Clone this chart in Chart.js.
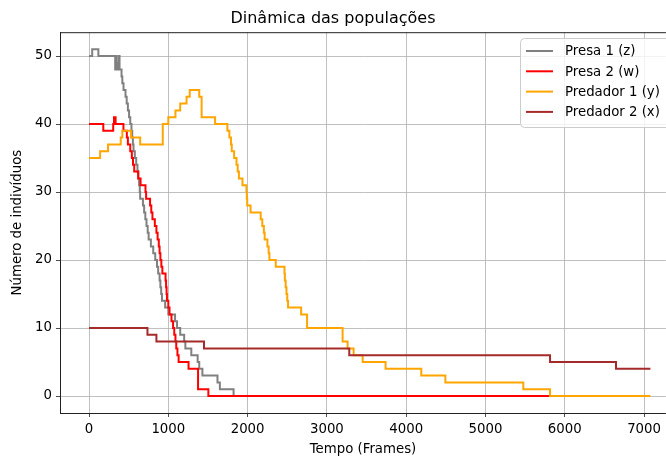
<!DOCTYPE html>
<html>
<head>
<meta charset="utf-8">
<script src="https://cdn.jsdelivr.net/npm/chart.js@4"></script>
<style>
  html, body { margin: 0; padding: 0; background: #fff; }
  #wrap { width: 666px; height: 459px; }
</style>
</head>
<body>
<div id="wrap"><canvas id="chart_pop"></canvas></div>
<script>
// tempos (frames) em que a população muda, e o valor a partir dali
const presa1T = [0, 40, 118, 330, 340, 350, 360, 370, 378, 385, 410, 420, 435, 460, 475, 490, 505, 520, 535, 545,
    553, 561, 578, 595, 611, 622, 632, 640, 645, 680, 695, 710, 725, 740, 752, 780, 810, 835, 857, 872,
    890, 900, 910, 920, 960, 1000, 1085, 1110, 1150, 1200, 1215, 1290, 1370, 1390, 1430, 1620, 1650, 1823, 5820]
const presa1V = [50, 51, 50, 48, 50, 48, 49, 48, 50, 48, 47, 46, 45, 44, 43, 42, 41, 40, 39, 38,
    37, 36, 35, 34, 33, 32, 31, 30, 29, 28, 27, 26, 25, 24, 23, 22, 21, 20, 19, 18,
    17, 16, 15, 14, 13, 12, 11, 10, 9, 8, 7, 6, 5, 4, 3, 2, 1, 0, 0]

const presa2T = [0, 180, 305, 315, 335, 434, 477, 490, 520, 540, 555, 570, 620, 650, 712, 720, 770, 785, 800, 830,
    850, 865, 880, 890, 900, 912, 925, 965, 972, 978, 983, 1000, 1015, 1040, 1060, 1075, 1090, 1100, 1115, 1130,
    1255, 1375, 1505, 5820]
const presa2V = [40, 39, 40, 41, 40, 39, 38, 37, 36, 35, 34, 33, 32, 31, 30, 29, 28, 27, 26, 25,
    24, 23, 22, 21, 20, 19, 18, 17, 16, 15, 14, 13, 12, 11, 10, 9, 8, 7, 6, 5,
    4, 1, 0, 0]

const pred1T = [0, 140, 240, 400, 420, 530, 645, 930, 1000, 1090, 1150, 1230, 1270, 1390, 1420, 1590, 1745, 1770, 1790, 1800,
    1830, 1860, 1875, 1890, 1935, 1985, 1990, 1995, 2037, 2165, 2185, 2205, 2215, 2250, 2265, 2275, 2355, 2465, 2470, 2480,
    2490, 2500, 2510, 2675, 2750, 3198, 3261, 3337, 3451, 3740, 4190, 4494, 5477, 5814, 7080]
const pred1V = [35, 36, 37, 38, 39, 38, 37, 40, 41, 42, 43, 44, 45, 44, 41, 40, 39, 38, 37, 36,
    35, 34, 33, 32, 31, 30, 29, 28, 27, 26, 25, 24, 23, 22, 21, 20, 19, 18, 17, 16,
    15, 14, 13, 12, 10, 8, 7, 6, 5, 4, 3, 2, 1, 0, 0]

const pred2T = [0, 737, 850, 1450, 3282, 5814, 6646, 7080]
const pred2V = [10, 9, 8, 7, 6, 5, 4, 4]

const labels = ['Presa 1 (z)', 'Presa 2 (w)', 'Predador 1 (y)', 'Predador 2 (x)']
const colors = ['#808080', '#ff0000', '#ffa500', '#a52a2a']
const xTicks = [0, 1000, 2000, 3000, 4000, 5000, 6000, 7000]
const yTicks = [0, 10, 20, 30, 40, 50]

const FONT = 'DejaVu Sans'

const pts = (ts, vs) => ts.map((t, i) => ({ x: t, y: vs[i] }))
const series = [pts(presa1T, presa1V), pts(presa2T, presa2V), pts(pred1T, pred1V), pts(pred2T, pred2V)]

// caixa da legenda e borda superior, como no matplotlib
const mplExtras = {
    id: 'mplExtras',
    afterDraw(chart) {
        const c = chart.ctx
        const a = chart.chartArea
        c.save()
        c.strokeStyle = '#222'
        c.lineWidth = 1
        c.beginPath()
        c.moveTo(a.left, a.top + 0.5)
        c.lineTo(a.right, a.top + 0.5)
        c.stroke()

        const bx = 520.5, by = 38.5, bw = 160, bh = 89, r = 4
        c.beginPath()
        c.roundRect(bx, by, bw, bh, r)
        c.fillStyle = 'rgba(255,255,255,0.8)'
        c.fill()
        c.strokeStyle = '#cccccc'
        c.stroke()

        c.font = '13.3px "' + FONT + '"'
        c.textBaseline = 'middle'
        c.fillStyle = '#000'
        chart.data.datasets.forEach((ds, i) => {
            const y = 51 + i * 20.3
            c.strokeStyle = ds.borderColor
            c.lineWidth = 2
            c.beginPath()
            c.moveTo(526, y)
            c.lineTo(553, y)
            c.stroke()
            c.fillText(ds.label, 565, y + 1)
        })
        c.restore()
    }
}

const ctx = document.getElementById('chart_pop').getContext('2d')
const myChart = new Chart(ctx, {
    type: 'line',
    data: {
        datasets: series.map((data, i) => ({
            label: labels[i],
            data: data,
            borderColor: colors[i],
            backgroundColor: colors[i],
            borderWidth: 2,
            pointRadius: 0,
            stepped: true,
            fill: false,
            order: 4 - i
        }))
    },
    options: {
        responsive: true,
        maintainAspectRatio: false,
        animation: false,
        layout: { padding: { left: 0, right: 0, top: 0, bottom: 0 } },
        plugins: {
            legend: { display: false },
            tooltip: { enabled: false },
            title: {
                display: true,
                text: 'Dinâmica das populações',
                color: '#000',
                font: { family: FONT, size: 16, weight: 'normal' },
                padding: { top: 9, bottom: 4 }
            }
        },
        scales: {
            x: {
                type: 'linear',
                min: -366,
                max: 7276,
                afterFit: s => { s.height = 46 },
                afterBuildTicks: s => { s.ticks = xTicks.map(v => ({ value: v })) },
                ticks: { color: '#000', font: { family: FONT, size: 13.3 }, padding: 5, maxRotation: 0, includeBounds: false, callback: v => String(v) },
                grid: { color: '#b0b0b0', lineWidth: 0.8, tickColor: '#222', tickLength: 4 },
                border: { color: '#222', width: 1 },
                title: { display: true, text: 'Tempo (Frames)', color: '#000', font: { family: FONT, size: 13.3 }, padding: { top: 0, bottom: 1 } }
            },
            y: {
                min: -2.5,
                max: 53.5,
                afterFit: s => { s.width = 60 },
                afterBuildTicks: s => { s.ticks = yTicks.map(v => ({ value: v })) },
                ticks: { color: '#000', font: { family: FONT, size: 13.3 }, padding: 4, includeBounds: false, callback: v => String(v) },
                grid: { color: '#b0b0b0', lineWidth: 0.8, tickColor: '#222', tickLength: 4 },
                border: { color: '#222', width: 1 },
                title: { display: true, text: 'Número de indivíduos', color: '#000', font: { family: FONT, size: 13.3 }, padding: { top: 10, bottom: 0 } }
            }
        }
    },
    plugins: [mplExtras]
})
</script>
</body>
</html>
